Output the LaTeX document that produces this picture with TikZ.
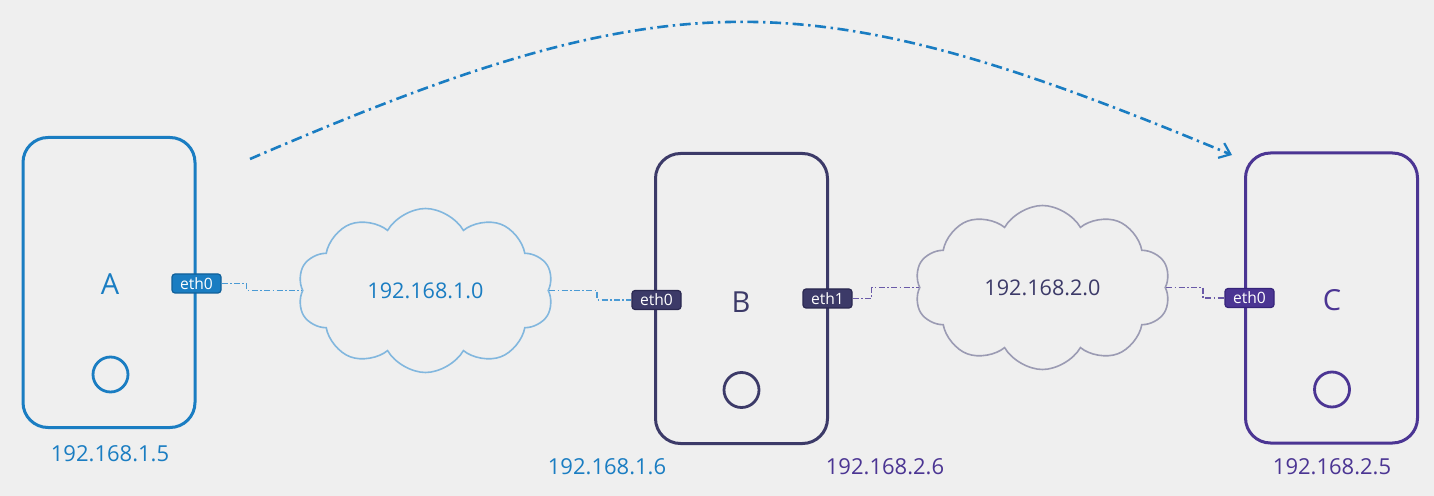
\documentclass[tikz,border=0pt]{standalone}
\usepackage{fontspec}
\setmainfont{Open Sans}
\usetikzlibrary{shapes.symbols,arrows.meta}
\definecolor{bg}{HTML}{EFEFEF}
\definecolor{colA}{HTML}{1A7DC2}
\definecolor{colAd}{HTML}{10609A}
\definecolor{colB}{HTML}{3C3A68}
\definecolor{colBd}{HTML}{2A2850}
\definecolor{colC}{HTML}{4B3593}
\definecolor{colCd}{HTML}{36247A}
\definecolor{cloudA}{HTML}{82B7DE}
\definecolor{cloudB}{HTML}{9B9BB3}
\definecolor{connA}{HTML}{4A9AD4}
\definecolor{connB}{HTML}{6A5AA8}
\tikzset{
  hostbox/.style={draw, line width=1.5pt, rounded corners=12.5pt, minimum width=86pt, minimum height=145pt, inner sep=0pt},
  hostlabel/.style={font=\fontsize{14.5}{16}\selectfont, inner sep=0pt},
  hostcirc/.style={circle, draw, line width=1.4pt, minimum size=17.5pt, inner sep=0pt},
  ethbox/.style={rounded corners=1.5pt, line width=0.6pt, text=white, font=\fontsize{7.8}{9}\selectfont, minimum width=24.5pt, minimum height=9.5pt, inner sep=0pt},
  netcloud/.style={cloud, cloud puffs=10, cloud puff arc=120, aspect=1.6, line width=0.8pt, minimum width=128pt, minimum height=82pt, inner sep=0pt, font=\fontsize{10.8}{12}\selectfont},
  iplabel/.style={font=\fontsize{11}{13}\selectfont, inner sep=0pt},
  conn/.style={line width=0.7pt, dash pattern=on 3pt off 1.2pt on 0.8pt off 1.2pt},
  arcconn/.style={line width=1.3pt, dash pattern=on 5.5pt off 2.3pt on 1.2pt off 2.3pt, -{Straight Barb[length=5pt,width=8pt,line width=1.1pt]}}
}
\begin{document}
\begin{tikzpicture}[x=0.5pt,y=-0.5pt]
\fill[bg] (0,0) rectangle (1434,496);
\useasboundingbox (0,0) rectangle (1434,496);
% hosts
\node[hostbox, draw=colA] (A) at (109,282.5) {};
\node[hostbox, draw=colB] (B) at (741.5,298.5) {};
\node[hostbox, draw=colC] (C) at (1331.5,298) {};
\node[hostlabel, text=colA] (Alab) at (110,284.5) {A};
\node[hostlabel, text=colB] (Blab) at (741,302) {B};
\node[hostlabel, text=colC] (Clab) at (1332,300) {C};
\node[hostcirc, draw=colA] (Acirc) at (110.5,374.5) {};
\node[hostcirc, draw=colB] (Bcirc) at (741.5,390) {};
\node[hostcirc, draw=colC] (Ccirc) at (1332,389.5) {};
% clouds
\node[netcloud, draw=cloudA, text=colA] (N1) at (425.5,290.5) {192.168.1.0};
\node[netcloud, draw=cloudB, text=colB] (N2) at (1042.5,287.5) {192.168.2.0};
% interfaces
\node[ethbox, fill=colA, draw=colAd] (ethA) at (196.5,283.5) {eth0};
\node[ethbox, fill=colB, draw=colBd] (ethB0) at (656.5,300) {eth0};
\node[ethbox, fill=colB, draw=colBd] (ethB1) at (827.5,298.5) {eth1};
\node[ethbox, fill=colC, draw=colCd] (ethC) at (1249.5,298) {eth0};
% connectors
\draw[conn, connA] (ethA.east) -- ++(25,0) |- (N1.west);
\draw[conn, connA] (N1.east) -- ++(48,0) |- (ethB0.west);
\draw[conn, connB] (ethB1.east) -- ++(19,0) |- (N2.west);
\draw[conn, connB] (N2.east) -- ++(37,0) |- (ethC.west);
% address labels
\node[iplabel, text=colA] (ipA) at (110,453.5) {192.168.1.5};
\node[iplabel, text=colA] (ipB0) at (607,467) {192.168.1.6};
\node[iplabel, text=colC] (ipB1) at (885,467) {192.168.2.6};
\node[iplabel, text=colC] (ipC) at (1332,467) {192.168.2.5};
% route arc
\coordinate (arcS) at (250,159);
\coordinate (arcE) at (1232,155);
\draw[arcconn, colA] (arcS) .. controls (672,-23) and (806,-23) .. (arcE);
\end{tikzpicture}
\end{document}
